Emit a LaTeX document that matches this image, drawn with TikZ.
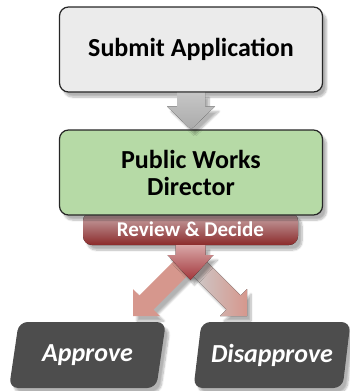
\documentclass[tikz,border=0pt]{standalone}
\usepackage{fontspec}
\setmainfont{Carlito}
\usetikzlibrary{calc,positioning,shapes.geometric,shadows.blur}

\definecolor{boxgray}{HTML}{EBEBEB}
\definecolor{dirgreen}{HTML}{B6DAA6}
\definecolor{darkred}{HTML}{8B2A2A}
\definecolor{midred}{HTML}{9C3A3C}
\definecolor{bannertop}{HTML}{CBAEB0}
\definecolor{arrowred}{HTML}{A2363B}
\definecolor{arrowpink}{HTML}{D8A6A6}
\definecolor{salmon}{HTML}{D6978D}
\definecolor{slate}{HTML}{4D4D4D}

\tikzset{
  softshadow/.style={blur shadow={shadow xshift=4pt, shadow yshift=-5pt, shadow blur steps=8, shadow opacity=30}},
  stepbox/.style={draw=black!85, line width=1.2pt, rounded corners=9pt,
    minimum width=263pt, minimum height=85pt, align=center,
    font=\bfseries\fontsize{26}{27}\selectfont, softshadow},
  outcome/.style={trapezium, trapezium left angle=76, trapezium right angle=104,
    trapezium stretches=true, minimum width=157pt, minimum height=66pt,
    fill=slate, rounded corners=9pt, text=white,
    font=\bfseries\itshape\fontsize{26}{28}\selectfont, softshadow},
}

\begin{document}
\begin{tikzpicture}[x=1pt, y=-1pt]

\useasboundingbox (0,0) rectangle (350,391);

\node[stepbox, fill=boxgray] (submit) at (191, 49.5) {Submit Application};

% review banner sits under the director box
\fill[top color=bannertop, middle color=midred, bottom color=darkred,
  rounded corners=9pt, softshadow] (83,212) rectangle (298,245);
\node[stepbox, fill=dirgreen] (director) at (191, 172.5) {Public Works\\Director};
\node[text=white, font=\bfseries\fontsize{21}{24}\selectfont] (review) at (190.5, 229.5) {Review \& Decide};

% gray arrow
\coordinate (ga) at (submit.south);
\coordinate (gb) at (director.north);
\fill[top color=gray!45, bottom color=gray!90!black!60, softshadow]
  ($(ga)+(-14,0)$) -- ($(ga)+(14,0)$) -- ($(gb)+(14,-23)$) -- ($(gb)+(24,-23)$)
  -- (gb) -- ($(gb)+(-24,-23)$) -- ($(gb)+(-14,-23)$) -- cycle;

\node[outcome] (approve) at (87.5, 355) {Approve};
\node[outcome] (disapprove) at (272, 355) {Disapprove};

% diagonal arrows
\coordinate (ltip) at (133, 316);
\coordinate (rtip) at (247, 316);
\fill[salmon, softshadow] (ltip) -- ($(ltip)+(0,-27)$) -- ($(ltip)+(6.4,-20.6)$)
  -- ($(ltip)+(42.9,-57.1)$) -- ($(ltip)+(57.1,-42.9)$) -- ($(ltip)+(20.6,-6.4)$)
  -- ($(ltip)+(27,0)$) -- cycle;
\fill[left color=gray!40, right color=salmon, softshadow] (rtip) -- ($(rtip)+(0,-27)$) -- ($(rtip)+(-6.4,-20.6)$)
  -- ($(rtip)+(-42.9,-57.1)$) -- ($(rtip)+(-57.1,-42.9)$) -- ($(rtip)+(-20.6,-6.4)$)
  -- ($(rtip)+(-27,0)$) -- cycle;

% red arrow
\coordinate (ra) at (190.5, 245);
\coordinate (rb) at (190.5, 280);
\fill[top color=arrowpink, bottom color=arrowred, softshadow]
  ($(ra)+(-15,0)$) -- ($(ra)+(15,0)$) -- ($(rb)+(15,-25)$) -- ($(rb)+(23,-25)$)
  -- (rb) -- ($(rb)+(-23,-25)$) -- ($(rb)+(-15,-25)$) -- cycle;

\end{tikzpicture}
\end{document}
